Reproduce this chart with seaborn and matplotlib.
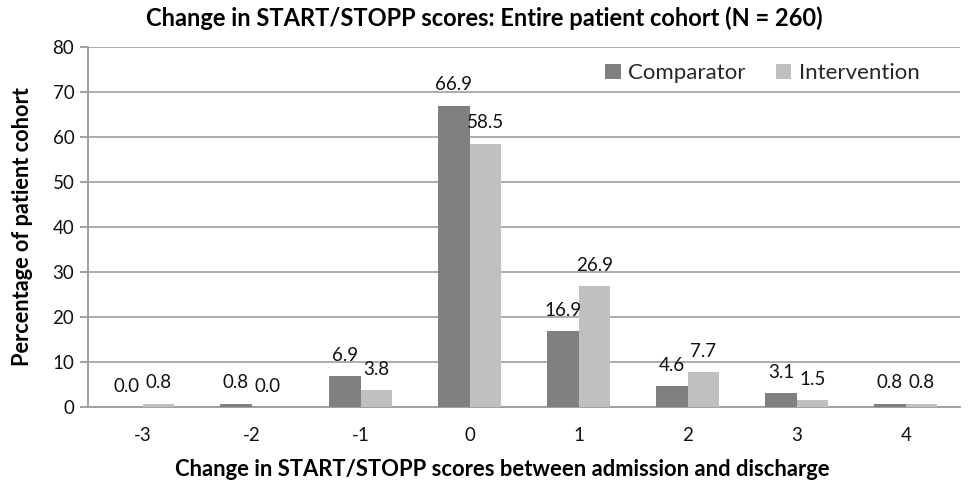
import pandas as pd
import matplotlib.pyplot as plt
import seaborn as sns
from matplotlib.patches import Patch

sns.set_style("white")
plt.rcParams['font.family'] = ['Lato', 'DejaVu Sans']

# Data
changes = ["-3", "-2", "-1", "0", "1", "2", "3", "4"]
comparator = [0.0, 0.8, 6.9, 66.9, 16.9, 4.6, 3.1, 0.8]
intervention = [0.8, 0.0, 3.8, 58.5, 26.9, 7.7, 1.5, 0.8]
groups = ["Comparator", "Intervention"]
colors = ["#808080", "#c0c0c0"]

df = pd.DataFrame({
    "Change": changes * 2,
    "Percent": comparator + intervention,
    "Group": [groups[0]] * len(changes) + [groups[1]] * len(changes),
})

fig = plt.figure(figsize=(9.69, 4.83), dpi=100)
ax = fig.add_axes([0.091, 0.157, 0.9, 0.746])

sns.barplot(data=df, x="Change", y="Percent", hue="Group", order=changes,
            hue_order=groups, palette=colors, width=0.58, saturation=1,
            linewidth=0, ax=ax, legend=False, zorder=3)

for container in ax.containers:
    ax.bar_label(container, fmt='%.1f', padding=9, fontsize=13.5, color="#111111")

ax.set_ylim(0, 80)
ax.set_yticks(range(0, 81, 10))
ax.set_xlim(-0.5, len(changes) - 0.5)
ax.yaxis.grid(True, color="#a6a6a6", linewidth=1.3, zorder=0)
ax.set_axisbelow(True)

for side in ["top", "right"]:
    ax.spines[side].set_visible(False)
for side in ["left", "bottom"]:
    ax.spines[side].set_color("#a0a0a0")
    ax.spines[side].set_linewidth(1.4)

# tick marks between categories on x axis
ax.set_xticks(range(len(changes)))
ax.set_xticklabels(changes)
ax.set_xticks([i - 0.5 for i in range(len(changes) + 1)], minor=True)
ax.tick_params(axis="x", which="major", length=0, pad=14, labelsize=13.5,
               labelcolor="#111111")
ax.tick_params(axis="x", which="minor", length=7, color="#a0a0a0", width=1.4)
ax.tick_params(axis="y", which="major", length=6, color="#a0a0a0", width=1.4,
               labelsize=13.5, labelcolor="#111111", left=True, pad=4)

ax.set_xlabel("Change in START/STOPP scores between admission and discharge",
              fontsize=15.8, fontweight="bold", labelpad=8, color="black")
ax.xaxis.set_label_coords(0.475, -0.145)
ax.set_ylabel("Percentage of patient cohort", fontsize=15.7, fontweight="bold",
              labelpad=14, color="black")
fig.text(0.5, 0.962, "Change in START/STOPP scores: Entire patient cohort (N = 260)",
         ha="center", va="center", fontsize=17, fontweight="bold", color="black")

handles = [Patch(facecolor=c, edgecolor="none") for c in colors]
ax.legend(handles, groups, loc="upper right", ncol=2, frameon=False,
          fontsize=16, handlelength=0.68, handleheight=0.68,
          columnspacing=1.4, handletextpad=0.32, borderaxespad=0, borderpad=0,
          bbox_to_anchor=(0.953, 0.955))

plt.savefig("out.png", dpi=100)
